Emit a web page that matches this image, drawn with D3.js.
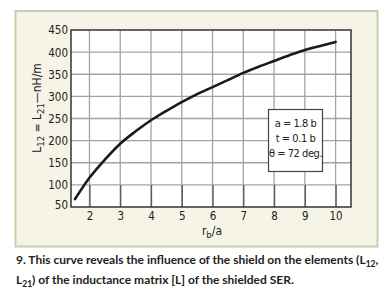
<!DOCTYPE html>
<html>
<head>
<meta charset="utf-8">
<script src="https://cdn.jsdelivr.net/npm/d3@7"></script>
<style>
	body{ margin:0; background:#fff; }
	.cond{ font-family:"DejaVu Sans Condensed","DejaVu Sans",sans-serif; font-stretch:condensed; fill:#222; }
	.cap{ font-family:"Lato","Open Sans",sans-serif; font-weight:bold; font-size:12px; fill:#222; }
</style>
</head>
<body>
<div id="chart"></div>
<script>

// curve: r_b/a against L12 (nH/m)
const rbRatio = [1.53, 2.0, 2.5, 3.0, 3.5, 4.0, 4.5, 5.0, 5.5, 6.0, 6.5, 7.0, 7.5, 8.0, 8.5, 9.0, 9.5, 10.0];
const inductance = [68, 116, 157, 193, 221, 246, 267, 287, 305, 321, 337, 353, 367, 380, 393, 405, 414, 423];

const xTicks = [2, 3, 4, 5, 6, 7, 8, 9, 10];
const yTicks = [50, 100, 150, 200, 250, 300, 350, 400, 450];

const boxLines = ["a = 1.8 b", "t = 0.1 b", "\u03b8 = 72 deg."];

const W = 391, H = 299;

const svg = d3.select("#chart")
		.append("svg")
		.attr("width", W)
		.attr("height", H);

// cream panel
svg.append("rect")
		.attr("x", 15.5)
		.attr("y", 11)
		.attr("width", 362)
		.attr("height", 235.5)
		.attr("fill", "#f6f4e6")
		.attr("stroke", "#c3d2ad")
		.attr("stroke-width", 2);

const x = d3.scaleLinear().domain([1.4, 10.5]).range([71, 351]);
const y = d3.scaleLinear().domain([50, 450]).range([207, 30]);

svg.append("rect")
		.attr("x", x(1.4))
		.attr("y", y(450))
		.attr("width", x(10.5) - x(1.4))
		.attr("height", y(50) - y(450))
		.attr("fill", "#fff");

// grid
const grid = svg.append("g").attr("stroke", "#a3a3a3").attr("stroke-width", 1.3);

grid.selectAll("line.v")
	.data(xTicks)
	.join("line")
		.attr("class", "v")
		.attr("x1", (d) => x(d)).attr("x2", (d) => x(d))
		.attr("y1", y(450)).attr("y2", y(50));

grid.selectAll("line.h")
	.data(yTicks.filter((d) => d > 50 && d < 450))
	.join("line")
		.attr("class", "h")
		.attr("x1", x(1.4)).attr("x2", x(10.5))
		.attr("y1", (d) => y(d)).attr("y2", (d) => y(d));

// axes
const xAxis = svg.append("g")
		.attr("transform", "translate(0," + y(50) + ")")
		.call(d3.axisBottom(x).tickValues(xTicks).tickSize(-(y(50) - y(100))));

const yAxis = svg.append("g")
		.attr("transform", "translate(" + x(1.4) + ",0)")
		.call(d3.axisLeft(y).tickValues(yTicks).tickSize(0).tickPadding(3));

[xAxis, yAxis].forEach((a) => {
	a.select(".domain").remove();
	a.selectAll("line").attr("stroke", "#5a5a5a").attr("stroke-width", 1.3);
	a.selectAll("text")
		.attr("class", "cond")
		.attr("font-size", 11.5)
		.attr("fill", "#222");
});

xAxis.selectAll("text").attr("dy", 0).attr("y", 13);
yAxis.selectAll("text").attr("dy", "0.34em");
yAxis.selectAll(".tick").filter((d) => d === 50).select("text").attr("dy", "0.1em");

// plot frame
svg.append("rect")
		.attr("x", x(1.4))
		.attr("y", y(450))
		.attr("width", x(10.5) - x(1.4))
		.attr("height", y(50) - y(450))
		.attr("fill", "none")
		.attr("stroke", "#333")
		.attr("stroke-width", 1.5);

// the curve
svg.append("path")
		.datum(rbRatio.map((d, i) => [d, inductance[i]]))
		.attr("fill", "none")
		.attr("stroke", "#1a1a1a")
		.attr("stroke-width", 2.6)
		.attr("stroke-linecap", "round")
		.attr("d", d3.line()
			.x((d) => x(d[0]))
			.y((d) => y(d[1]))
			.curve(d3.curveMonotoneX));

// parameter box
const box = svg.append("g");
box.append("rect")
		.attr("x", 268.5)
		.attr("y", 109.5)
		.attr("width", 54)
		.attr("height", 62)
		.attr("fill", "#fff")
		.attr("stroke", "#444")
		.attr("stroke-width", 1.2);

box.selectAll("text")
	.data(boxLines)
	.join("text")
		.attr("class", "cond")
		.attr("font-size", 11)
		.attr("letter-spacing", -0.45)
		.attr("text-anchor", "middle")
		.attr("x", 295.5)
		.attr("y", (d, i) => 127 + i * 15)
		.text((d) => d);

// axis titles
const xt = svg.append("text")
		.attr("class", "cond")
		.attr("font-size", 12)
		.attr("text-anchor", "middle")
		.attr("x", 212)
		.attr("y", 235);
xt.append("tspan").text("r");
xt.append("tspan").attr("font-size", 9.5).attr("dy", 3).text("b");
xt.append("tspan").attr("dy", -3).text("/a");

const yt = svg.append("text")
		.attr("class", "cond")
		.attr("font-size", 12)
		.attr("text-anchor", "middle")
		.attr("transform", "translate(41,108) rotate(-90)");
yt.append("tspan").text("L");
yt.append("tspan").attr("font-size", 9.5).attr("dy", 3).text("12");
yt.append("tspan").attr("dy", -3).text(" = L");
yt.append("tspan").attr("font-size", 9.5).attr("dy", 3).text("21");
yt.append("tspan").attr("dy", -3).text("\u2014nH/m");

// caption
const c1 = svg.append("text").attr("class", "cap").attr("x", 16).attr("y", 264);
c1.append("tspan").text("9. This curve reveals the influence of the shield on the elements (L");
c1.append("tspan").attr("font-size", 8.5).attr("dy", 2.5).text("12");
c1.append("tspan").attr("dy", -2.5).text(",");

const c2 = svg.append("text").attr("class", "cap").attr("x", 16).attr("y", 284);
c2.append("tspan").text("L");
c2.append("tspan").attr("font-size", 8.5).attr("dy", 2.5).text("21");
c2.append("tspan").attr("dy", -2.5).text(") of the inductance matrix [L] of the shielded SER.");

</script>
</body>
</html>
